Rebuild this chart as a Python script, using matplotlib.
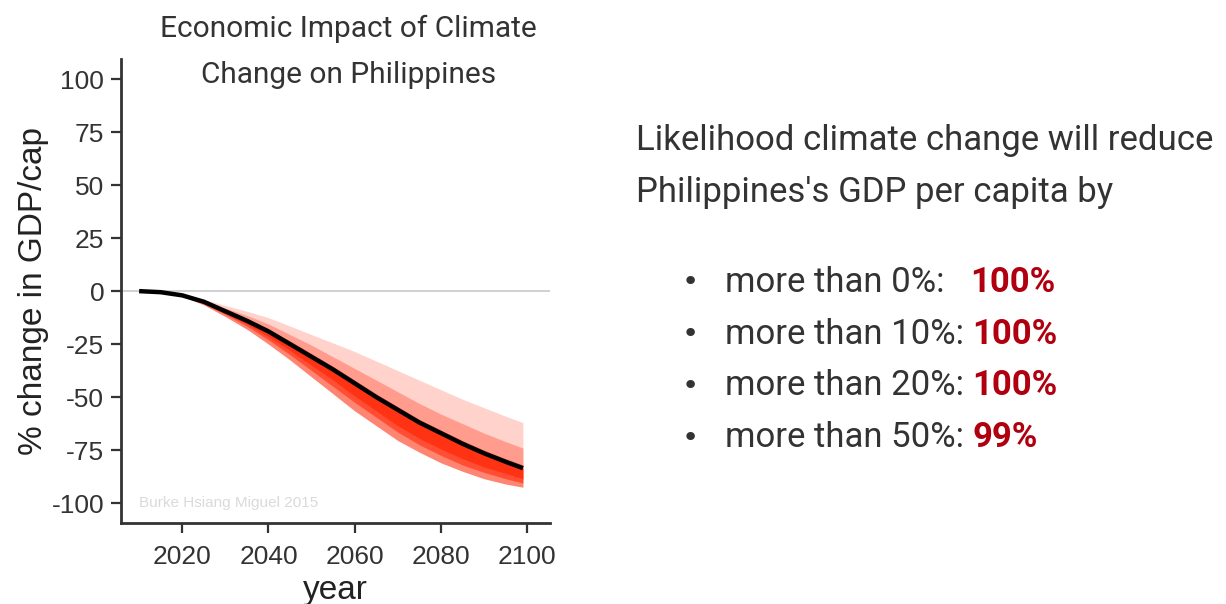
import matplotlib.pyplot as plt

plt.rcParams['axes.unicode_minus'] = False

# data
years = [2010, 2015, 2020, 2025, 2030, 2035, 2040, 2045, 2050, 2055,
         2060, 2065, 2070, 2075, 2080, 2085, 2090, 2095, 2099]
median = [0, -0.5, -2, -5, -9.5, -14, -19, -25, -31, -37,
          -43.5, -50, -56, -62, -67, -72, -76.5, -80.5, -83.5]
outer_hi = [0, -0.4, -1.6, -3.8, -6.8, -9.5, -12.5, -16.5, -20.5, -24.5,
            -28.5, -33, -37.5, -42, -46.5, -51, -55, -59, -62]
outer_lo = [0, -0.6, -2.5, -6.5, -12, -18, -25, -32.5, -40.5, -48.5,
            -56.5, -63.5, -70.5, -76, -81, -85, -88.5, -91, -92.5]
mid_hi = [0, -0.45, -1.8, -4.3, -8, -11.5, -15.5, -20.5, -25.5, -31,
          -36.5, -42, -47.5, -53, -58, -62.5, -67, -71, -74]
mid_lo = [0, -0.55, -2.3, -6, -11, -16.5, -23, -30, -37.5, -45,
          -52.5, -59.5, -66.5, -72.5, -77.5, -82, -85.5, -88.5, -90.5]
inner_hi = [0, -0.5, -1.9, -4.7, -9, -13, -18, -23.5, -29.5, -35.5,
            -42, -48.5, -54.5, -60.5, -65.5, -70.5, -75, -79, -82]
inner_lo = [0, -0.5, -2.2, -5.6, -10.5, -15.5, -21.5, -28, -35, -42,
            -49.5, -56.5, -63.5, -69.5, -74.5, -79, -83, -86, -88.5]

yticks = [100, 75, 50, 25, 0, -25, -50, -75, -100]
xticks = [2020, 2040, 2060, 2080, 2100]

thresholds = ["0%:   ", "10%: ", "20%: ", "50%: "]
likelihood = ["100%", "100%", "100%", "99%"]

fig = plt.figure(figsize=(12.26, 6.04), dpi=100)
ax = fig.add_axes([0.0987, 0.134, 0.350, 0.768])

red = '#ff2200'
ax.axhline(0, color='#c8c8c8', lw=1.2, zorder=1)
# above the median: fading to pink
ax.fill_between(years, median, outer_hi, color=red, alpha=0.2, lw=0, zorder=2)
ax.fill_between(years, median, mid_hi, color=red, alpha=0.3, lw=0, zorder=2)
ax.fill_between(years, median, inner_hi, color=red, alpha=0.45, lw=0, zorder=2)
# below the median: strong red
ax.fill_between(years, outer_lo, median, color=red, alpha=0.55, lw=0, zorder=3)
ax.fill_between(years, mid_lo, median, color=red, alpha=0.55, lw=0, zorder=3)
ax.fill_between(years, inner_lo, median, color=red, alpha=0.6, lw=0, zorder=3)
ax.plot(years, median, color='black', lw=3.2, zorder=5, solid_capstyle='butt')

ax.set_xlim(2005.8, 2105.3)
ax.set_ylim(-109.4, 109.4)
ax.set_xticks(xticks)
ax.set_yticks(yticks)
for s in ['top', 'right']:
    ax.spines[s].set_visible(False)
for s in ['left', 'bottom']:
    ax.spines[s].set_color('#333333')
    ax.spines[s].set_linewidth(2)
ax.tick_params(colors='#333333', width=1.6, length=7, labelsize=19,
               labelcolor='#333333')
ax.tick_params(axis='x', pad=9)
ax.tick_params(axis='y', pad=5)
for lab in ax.get_xticklabels() + ax.get_yticklabels():
    lab.set_family('Liberation Sans')
ax.set_xlabel('year', fontsize=24, family='Liberation Sans', color='#222222', labelpad=4)
ax.set_ylabel('% change in GDP/cap', fontsize=24, family='Liberation Sans',
              color='#222222', labelpad=2)
ax.text(2010, -100, 'Burke Hsiang Miguel 2015', fontsize=11, color='#dadada',
        family='Liberation Sans', va='center')

fig.text(0.284, 0.952, 'Economic Impact of Climate', ha='center', va='center',
         fontsize=21.5, family='Roboto', color='#333333')
fig.text(0.284, 0.876, 'Change on Philippines', ha='center', va='center',
         fontsize=21.5, family='Roboto', color='#333333')

fig.text(0.519, 0.767, 'Likelihood climate change will reduce', ha='left',
         va='center', fontsize=25, family='Roboto', color='#333333')
fig.text(0.519, 0.681, "Philippines's GDP per capita by", ha='left',
         va='center', fontsize=25, family='Roboto', color='#333333')

row_y = [0.533, 0.447, 0.361, 0.275]
for y, th, val in zip(row_y, thresholds, likelihood):
    fig.text(0.563, y, '\u2022', ha='center', va='center', fontsize=21,
             family='DejaVu Sans', color='#333333')
    t = fig.text(0.591, y, 'more than ' + th, ha='left', va='center',
                 fontsize=25, family='Roboto', color='#333333')
    fig.canvas.draw()
    bb = t.get_window_extent()
    x1 = bb.x1 / fig.bbox.width
    fig.text(x1, y, val, ha='left', va='center', fontsize=25,
             family='Roboto', weight='bold', color='#b0000f')

fig.savefig('out.png', dpi=100)
